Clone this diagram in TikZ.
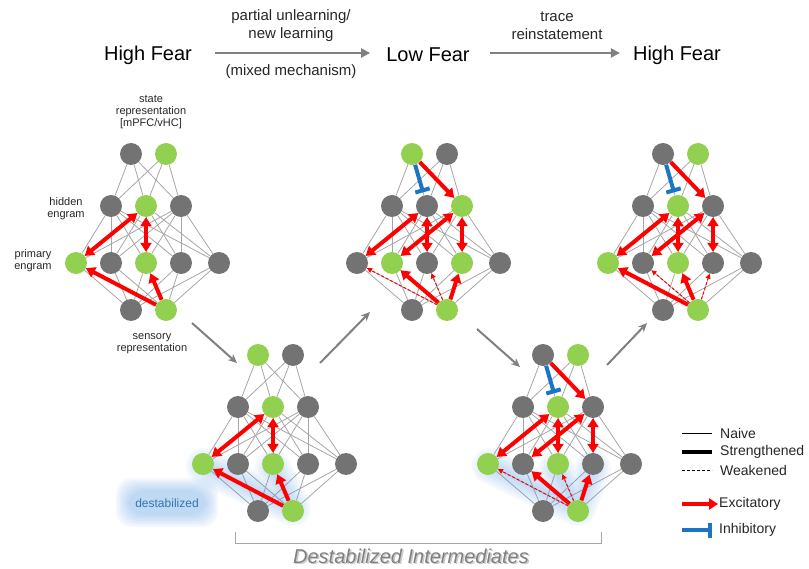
\documentclass[tikz,border=0pt]{standalone}
\usepackage{fontspec}
\setmainfont{Liberation Sans}
\usetikzlibrary{arrows.meta,backgrounds}

\definecolor{gn}{HTML}{92D050}
\definecolor{gy}{HTML}{737373}
\definecolor{linkgray}{HTML}{A6A6A6}
\definecolor{inhblue}{HTML}{1B75C4}
\definecolor{flowgray}{HTML}{808080}
\definecolor{haze}{HTML}{5B9BE0}
\definecolor{tagtext}{HTML}{2E75B6}

\tikzset{
  neuron/.style={circle, minimum size=22pt, inner sep=0pt},
  link/.style={linkgray, line width=0.8pt},
  excite/.style={red, line width=4pt, -{Triangle[length=9pt,width=11pt]}},
  bothway/.style={red, line width=4pt, {Triangle[length=9pt,width=11pt]}-{Triangle[length=9pt,width=11pt]}},
  weak/.style={red, line width=1pt, dash pattern=on 3pt off 2pt, -{Triangle[length=5pt,width=5pt]}},
  inhibit/.style={inhblue, line width=4pt, -{Bar[width=15pt]}, shorten >=3pt},
  flow/.style={flowgray, line width=2pt, -{Stealth[length=9pt,width=8pt]}},
  proc/.style={flowgray, line width=2.5pt, -{Triangle[length=9pt,width=9pt]}},
  stage/.style={inner sep=0pt, font=\fontsize{20}{24}\selectfont},
  note/.style={inner sep=0pt, align=center, font=\fontsize{15}{18}\selectfont, text=black!85},
  tag/.style={inner sep=0pt, align=center, font=\fontsize{11}{12}\selectfont, text=black!85},
  key/.style={anchor=west, inner sep=0pt, font=\fontsize{14}{16}\selectfont, text=black!85},
}

% one network: name, centre x, top row y, colours of top, hidden and primary rows
\newcommand{\engramnet}[6]{%
  \foreach \col [count=\i] in {#4}
    \node[neuron, fill=\col] (#1t\i) at ({#2+35*\i-50}, #3) {};
  \foreach \col [count=\i] in {#5}
    \node[neuron, fill=\col] (#1h\i) at ({#2+35*\i-70}, {#3+52}) {};
  \foreach \col [count=\i] in {#6}
    \node[neuron, fill=\col] (#1p\i) at ({#2+35*\i-105+3*(\i==5)}, {#3+109}) {};
  \foreach \col [count=\i] in {gy,gn}
    \node[neuron, fill=\col] (#1b\i) at ({#2+35*\i-50}, {#3+156}) {};
  \begin{scope}[on background layer]
    \foreach \a in {1,2} \foreach \b in {1,2,3} \draw[link] (#1t\a) -- (#1h\b);
    \foreach \a in {1,2,3} \foreach \b in {1,...,5} \draw[link] (#1h\a) -- (#1p\b);
    \foreach \a in {1,...,5} \foreach \b in {1,2} \draw[link] (#1p\a) -- (#1b\b);
  \end{scope}
}

\begin{document}
\begin{tikzpicture}[x=1pt, y=-1pt]
    \useasboundingbox (0,0) rectangle (809,569);

    % stages
    \node[stage] (fear1) at (148,55) {High Fear};
    \node[stage] (fear2) at (428,55) {Low Fear};
    \node[stage] (fear3) at (677,55) {High Fear};
    \draw[proc, shorten <=23pt, shorten >=16pt] ([yshift=2pt]fear1.east) -- ([yshift=2pt]fear2.west);
    \draw[proc, shorten <=20pt, shorten >=13pt] ([yshift=2pt]fear2.east) -- ([yshift=2pt]fear3.west);
    \node[note] (how1) at (291,26) {partial unlearning/\\new learning};
    \node[note] (how1b) at (291,72) {(mixed mechanism)};
    \node[note] (how2) at (557,26) {trace\\reinstatement};

    % destabilized haze
    \foreach \w in {36,31,...,6}
        \draw[haze, draw opacity=0.06, line width=\w pt, line cap=round, line join=round] (204,466) -- (293,508) -- (273,468);
    \foreach \w in {36,31,...,6}
        \draw[haze, draw opacity=0.06, line width=\w pt, line cap=round, line join=round] (490,466) -- (578,508) -- (593,468) (578,508) -- (556,470);
    \foreach \g in {12,10,...,0}
        \fill[haze, fill opacity=0.065, rounded corners=16pt] ({128-\g},{490-\g}) rectangle ({206+\g},{515+\g});
    \node[inner sep=0pt, font=\fontsize{12}{14}\selectfont, text=tagtext] (tag) at (167,503) {destabilized};

    % networks
    \engramnet{a}{146}{154}{gy,gn}{gy,gn,gy}{gn,gy,gn,gy,gy}
    \engramnet{b}{273}{355}{gn,gy}{gy,gn,gy}{gn,gy,gn,gy,gy}
    \engramnet{c}{427}{154}{gn,gy}{gy,gy,gn}{gy,gn,gy,gn,gy}
    \engramnet{d}{558}{355}{gy,gn}{gy,gn,gy}{gn,gy,gn,gy,gy}
    \engramnet{e}{678}{154}{gy,gn}{gy,gn,gy}{gn,gy,gn,gy,gy}

    % layer labels
    \node[tag] (lstate) at (151,112) {state\\representation\\{}[mPFC/vHC]};
    \node[tag] (lhidden) at (66,209) {hidden\\engram};
    \node[tag] (lprimary) at (33,261) {primary\\engram};
    \node[tag] (lsensory) at (152,344) {sensory\\representation};

    % connections
    \draw[bothway] (ah2) -- (ap1);
    \draw[bothway] (ah2) -- (ap3);
    \draw[excite] (ab2) -- (ap1);
    \draw[excite] (ab2) -- (ap3);

    \draw[bothway] (bh2) -- (bp1);
    \draw[bothway] (bh2) -- (bp3);
    \draw[excite] (bb2) -- (bp1);
    \draw[excite] (bb2) -- (bp3);

    \draw[inhibit] (ct1) -- (ch2);
    \draw[excite] (ct1) -- (ch3);
    \draw[bothway] (ch2) -- (cp1);
    \draw[bothway] (ch2) -- (cp3);
    \draw[bothway] (ch3) -- (cp2);
    \draw[bothway] (ch3) -- (cp4);
    \draw[excite] (cb2) -- (cp2);
    \draw[excite] (cb2) -- (cp4);
    \draw[weak] (cb2) -- (cp1);
    \draw[weak] (cb2) -- (cp3);

    \draw[inhibit] (dt1) -- (dh2);
    \draw[excite] (dt1) -- (dh3);
    \draw[bothway] (dh2) -- (dp1);
    \draw[bothway] (dh2) -- (dp3);
    \draw[bothway] (dh3) -- (dp2);
    \draw[bothway] (dh3) -- (dp4);
    \draw[excite] (db2) -- (dp2);
    \draw[excite] (db2) -- (dp4);
    \draw[weak] (db2) -- (dp1);
    \draw[weak] (db2) -- (dp3);

    \draw[inhibit] (et1) -- (eh2);
    \draw[excite] (et1) -- (eh3);
    \draw[bothway] (eh2) -- (ep1);
    \draw[bothway] (eh2) -- (ep3);
    \draw[bothway] (eh3) -- (ep2);
    \draw[bothway] (eh3) -- (ep4);
    \draw[excite] (eb2) -- (ep1);
    \draw[excite] (eb2) -- (ep3);
    \draw[weak] (eb2) -- (ep2);
    \draw[weak] (eb2) -- (ep4);

    % transitions between networks
    \coordinate (f1s) at (192,323); \coordinate (f1e) at (237,363);
    \coordinate (f2s) at (320,363); \coordinate (f2e) at (370,312);
    \coordinate (f3s) at (477,329); \coordinate (f3e) at (520,367);
    \coordinate (f4s) at (607,365); \coordinate (f4e) at (647,323);
    \draw[flow] (f1s) -- (f1e);
    \draw[flow] (f2s) -- (f2e);
    \draw[flow] (f3s) -- (f3e);
    \draw[flow] (f4s) -- (f4e);

    % bracket
    \coordinate (brl) at (235,532); \coordinate (brr) at (601,532);
    \draw[linkgray, line width=1pt] (brl) -- ++(0,11) -| (brr);
    \node[inner sep=0pt, font=\fontsize{20}{24}\selectfont\itshape, text=black!35, opacity=0.6] (midshadow) at (412.5,557.5) {Destabilized Intermediates};
    \node[inner sep=0pt, font=\fontsize{20}{24}\selectfont\itshape, text=black!50] (mid) at (411,556) {Destabilized Intermediates};

    % legend
    \coordinate (k1) at (682,433); \coordinate (k1e) at (712,433);
    \coordinate (k2) at (682,452); \coordinate (k2e) at (712,452);
    \coordinate (k3) at (682,470); \coordinate (k3e) at (712,470);
    \coordinate (k4) at (682,504); \coordinate (k4e) at (718,504);
    \coordinate (k5) at (682,530); \coordinate (k5e) at (712,530);
    \draw[black, line width=0.8pt] (k1) -- (k1e);
    \draw[black, line width=4pt] (k2) -- (k2e);
    \draw[black, line width=0.8pt, dash pattern=on 3pt off 2pt] (k3) -- (k3e);
    \draw[excite] (k4) -- (k4e);
    \draw[inhibit, shorten >=0pt] (k5) -- (k5e);
    \node[key] (knaive) at (720,433) {Naive};
    \node[key] (kstrong) at (720,452) {Strengthened};
    \node[key] (kweak) at (720,470) {Weakened};
    \node[key] (kexc) at (719,504) {Excitatory};
    \node[key] (kinh) at (719,530) {Inhibitory};
\end{tikzpicture}
\end{document}
